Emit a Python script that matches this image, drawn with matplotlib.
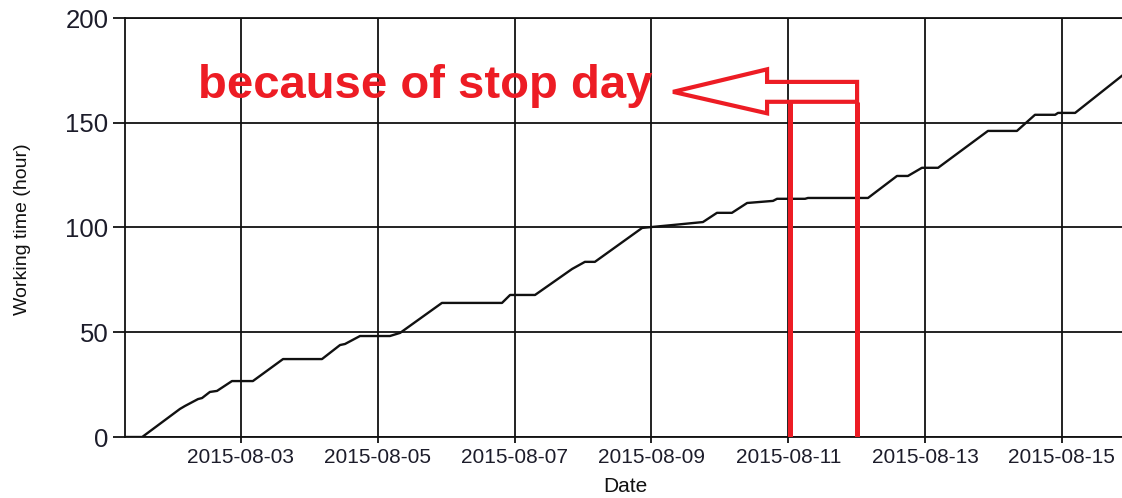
import matplotlib
matplotlib.use("Agg")
import matplotlib.pyplot as plt
import matplotlib.dates as mdates
from matplotlib.patches import Polygon
import pandas as pd

# ---- data ----
times = ["2015-08-01 07:20", "2015-08-01 13:20", "2015-08-02 02:35", "2015-08-02 04:20",
         "2015-08-02 08:55", "2015-08-02 10:20", "2015-08-02 13:05", "2015-08-02 15:35",
         "2015-08-02 20:50", "2015-08-03 04:10", "2015-08-03 14:45", "2015-08-04 04:25",
         "2015-08-04 10:45", "2015-08-04 12:30", "2015-08-04 17:45", "2015-08-05 04:15",
         "2015-08-05 07:50", "2015-08-05 22:30", "2015-08-06 19:35", "2015-08-06 22:25",
         "2015-08-07 07:10", "2015-08-07 20:10", "2015-08-08 00:40", "2015-08-08 04:10",
         "2015-08-08 20:45", "2015-08-09 07:35", "2015-08-09 18:05", "2015-08-09 23:00",
         "2015-08-10 04:15", "2015-08-10 09:35", "2015-08-10 18:40", "2015-08-10 20:05",
         "2015-08-11 05:55", "2015-08-11 06:55", "2015-08-12 04:00", "2015-08-12 14:10",
         "2015-08-12 18:00", "2015-08-12 22:55", "2015-08-13 04:35", "2015-08-13 22:05",
         "2015-08-14 08:15", "2015-08-14 14:35", "2015-08-14 21:40", "2015-08-14 22:40",
         "2015-08-15 04:40", "2015-08-15 21:05"]
hours = [0, 0, 13.4, 14.8, 18.1, 18.6, 21.5, 22.0, 26.7, 26.7,
         37.2, 37.2, 43.9, 44.4, 48.2, 48.2, 49.7, 64.0, 64.0, 67.8,
         67.8, 80.2, 83.6, 83.6, 99.8, 101.2, 102.6, 107.0, 107.0, 111.7,
         112.7, 113.7, 113.7, 114.1, 114.1, 124.6, 124.6, 128.5, 128.5, 146.1,
         146.1, 153.8, 153.8, 154.7, 154.7, 172.4]

x_limits = ["2015-08-01 07:18", "2015-08-15 21:07"]
y_ticks = [0, 50, 100, 150, 200]

# annotation anchors (stop day)
stop_start = "2015-08-11 00:30"
stop_end = "2015-08-12 00:00"
arrow_tip = "2015-08-09 07:35"
arrow_head_base = "2015-08-10 16:35"
arrow_end = "2015-08-12 00:10"
annotation_text = "because of stop day"
text_pos = "2015-08-02 08:55"

RED = "#ED1C24"

t = pd.to_datetime(times)
fig = plt.figure(figsize=(11.22, 4.98), dpi=100)
ax = fig.add_axes([125 / 1122, 1 - 437 / 498, 1 - 125 / 1122, (437 - 18) / 498])

ax.plot(t, hours, color="#111111", lw=1.7, zorder=3)

ax.set_xlim(pd.to_datetime(x_limits[0]), pd.to_datetime(x_limits[1]))
ax.set_ylim(0, 200)
ax.set_yticks(y_ticks)
ax.xaxis.set_major_locator(mdates.DayLocator(bymonthday=[3, 5, 7, 9, 11, 13, 15]))
ax.xaxis.set_major_formatter(mdates.DateFormatter("%Y-%m-%d"))

ax.grid(True, color="#111111", lw=1.3)
ax.spines["right"].set_visible(False)
for s in ["left", "bottom", "top"]:
    ax.spines[s].set_color("#111111")
    ax.spines[s].set_linewidth(1.3)

ax.tick_params(axis="y", labelsize=18.5, length=9, width=1.3, pad=3, colors="#111111",
               labelcolor="#1c1c2a")
ax.tick_params(axis="x", labelsize=15, length=4, width=1.3, pad=4, colors="#111111",
               labelcolor="#1c1c2a")
for lab in ax.get_xticklabels() + ax.get_yticklabels():
    lab.set_fontfamily("Liberation Sans")

fig.text(23 / 1122, 1 - 229 / 498, "Working time (hour)", rotation=90, ha="center",
         va="center", fontsize=14, family="Liberation Sans", color="#111111")
fig.text(625 / 1122, 1 - 486 / 498, "Date", ha="center", va="center", fontsize=15,
         family="Liberation Sans", color="#111111")

# red annotation
s0 = mdates.date2num(pd.to_datetime(stop_start))
s1 = mdates.date2num(pd.to_datetime(stop_end))
tip = mdates.date2num(pd.to_datetime(arrow_tip))
hb = mdates.date2num(pd.to_datetime(arrow_head_base))
ae = mdates.date2num(pd.to_datetime(arrow_end))
shaft_top, shaft_bot = 169.5, 160.0
head_top, head_bot = 175.5, 154.5
poly = Polygon([(tip, (shaft_top + shaft_bot) / 2), (hb, head_top), (hb, shaft_top),
                (ae, shaft_top), (ae, shaft_bot), (hb, shaft_bot), (hb, head_bot)],
               closed=True, fill=False, edgecolor=RED, lw=3.0, joinstyle="miter",
               zorder=5, clip_on=False)
ax.add_patch(poly)
ax.plot([s0, s0], [0, shaft_bot], color=RED, lw=3.6, zorder=5, solid_capstyle="butt")
ax.plot([s1, s1], [0, shaft_bot], color=RED, lw=3.6, zorder=5, solid_capstyle="butt")
ax.text(mdates.date2num(pd.to_datetime(text_pos)), 162, annotation_text, color=RED,
        fontsize=34, fontweight="bold", family="Liberation Sans", ha="left",
        va="baseline", zorder=6)

fig.savefig("out.png", dpi=100)
